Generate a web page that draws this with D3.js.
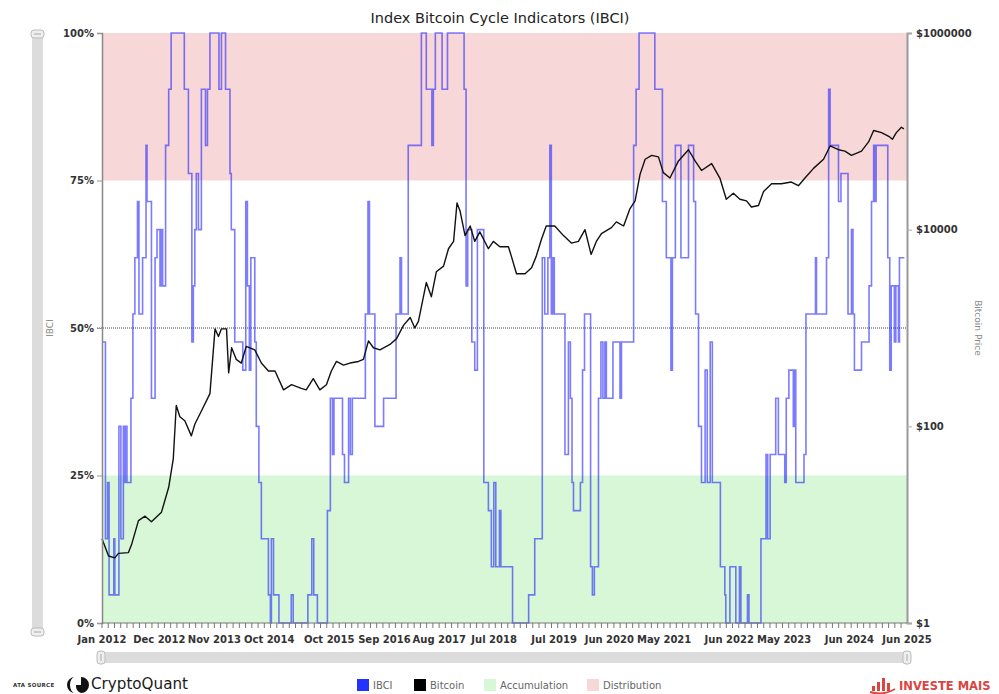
<!DOCTYPE html>
<html>
<head>
<meta charset="utf-8">
<script src="https://cdn.jsdelivr.net/npm/d3@7"></script>
<style>
  body { margin: 0; background: #fff; }
  svg { display: block; }
  text { font-family: "DejaVu Sans", Verdana, sans-serif; }
</style>
</head>
<body>
<svg width="999" height="694"></svg>
<script>
var ibciDates = [
  "2012-01-01","2012-01-22","2012-02-04","2012-02-13","2012-03-13","2012-03-19","2012-04-13","2012-04-25","2012-05-10","2012-05-16","2012-05-22","2012-06-01","2012-06-25","2012-07-07","2012-07-19","2012-08-04","2012-08-13","2012-09-04","2012-09-25","2012-10-01","2012-10-28","2012-11-19","2012-12-01","2012-12-19","2012-12-25",
  "2013-01-04","2013-01-22","2013-02-10","2013-02-25","2013-05-16","2013-06-10","2013-07-01","2013-07-10","2013-07-19","2013-07-28","2013-08-10","2013-08-28","2013-09-22","2013-10-04","2013-10-19","2013-12-13","2013-12-28",
  "2014-01-22","2014-02-18","2014-02-26","2014-03-19","2014-05-07","2014-05-25","2014-06-04","2014-06-16","2014-06-25","2014-07-19","2014-07-28","2014-08-13","2014-08-28","2014-10-10","2014-10-22","2014-10-28","2014-11-10","2014-12-13",
  "2015-02-26","2015-03-10","2015-06-07","2015-07-01","2015-07-13","2015-08-04","2015-10-04","2015-10-22","2015-11-04","2015-11-13",
  "2016-01-04","2016-01-16","2016-02-10","2016-02-21","2016-03-04","2016-05-22","2016-06-07","2016-06-16","2016-07-19","2016-09-10","2016-11-25","2016-12-19","2016-12-28",
  "2017-02-07","2017-04-28","2017-05-28","2017-07-01","2017-07-10","2017-07-22","2017-09-01","2017-10-04",
  "2018-01-13","2018-01-25","2018-02-04","2018-03-01","2018-03-19","2018-04-04","2018-05-13","2018-06-10","2018-06-28","2018-07-13","2018-07-25","2018-08-16","2018-08-25","2018-11-04",
  "2019-02-10","2019-03-19","2019-05-04","2019-05-19","2019-06-07","2019-06-19","2019-06-28","2019-07-07","2019-07-16","2019-09-19","2019-10-10","2019-10-22","2019-11-01","2019-11-10","2019-12-22",
  "2020-01-04","2020-01-16","2020-02-22","2020-03-04","2020-03-16","2020-04-10","2020-04-25","2020-05-07","2020-05-19","2020-05-28","2020-07-07","2020-08-19","2020-08-28","2020-11-10","2020-11-25","2020-12-13",
  "2021-03-19","2021-05-04","2021-05-28","2021-06-25","2021-07-04","2021-07-22","2021-08-25","2021-10-10","2021-11-10","2021-11-22","2021-12-10","2021-12-28",
  "2022-01-19","2022-02-01","2022-02-19","2022-03-04","2022-04-22","2022-05-19","2022-05-25","2022-06-19","2022-07-25","2022-08-16","2022-08-25","2022-10-04","2022-10-13","2022-12-25",
  "2023-01-25","2023-02-04","2023-02-19","2023-03-25","2023-04-10","2023-05-19","2023-05-28","2023-06-13","2023-07-10","2023-07-16","2023-07-25","2023-09-13","2023-09-25","2023-11-22","2023-11-28",
  "2024-01-28","2024-02-10","2024-02-19","2024-04-10","2024-04-25","2024-06-07","2024-06-28","2024-07-07","2024-07-16","2024-08-28","2024-10-13","2024-10-28","2024-11-10","2024-11-19","2024-11-25",
  "2025-02-04","2025-02-16","2025-02-25","2025-03-16","2025-03-25","2025-04-10","2025-04-16","2025-05-16"
];
var ibciCounts = [
  10,3,5,1,3,1,7,3,7,5,7,5,8,11,13,15,11,13,17,15,8,13,14,12,14,
  12,17,19,21,19,16,10,12,14,16,14,19,17,19,21,19,21,
  19,16,14,10,9,15,12,9,13,10,7,5,3,1,0,3,1,0,
  1,0,1,3,1,0,4,8,6,8,
  6,5,8,6,8,11,15,11,7,8,11,13,11,
  17,21,19,17,19,21,19,21,
  19,12,14,10,9,14,5,4,2,5,2,4,2,0,
  1,3,13,11,13,17,11,13,11,6,10,8,5,4,5,
  9,11,2,1,2,8,10,8,10,8,10,8,10,17,19,21,
  19,15,13,9,13,17,13,17,15,11,7,5,
  9,5,10,5,2,1,0,2,0,2,0,1,0,3,
  6,3,6,8,6,5,8,9,7,9,5,6,11,13,11,
  13,19,17,15,16,11,14,11,9,10,12,15,17,15,17,
  13,9,12,10,12,10,13,13
];
var ibciTotal = 21;

// Bitcoin price (USD)
var btcDates = [
  "2012-01-01","2012-02-10","2012-03-19","2012-04-10","2012-06-10","2012-06-28","2012-08-10","2012-09-19","2012-10-28","2012-12-28",
  "2013-02-10","2013-03-10","2013-03-28","2013-04-19","2013-05-19","2013-06-28","2013-07-19","2013-08-28","2013-10-19","2013-11-19","2013-12-10","2013-12-28",
  "2014-01-28","2014-02-10","2014-02-28","2014-03-28","2014-04-28","2014-05-28","2014-07-19","2014-08-28","2014-10-10","2014-11-19",
  "2015-01-10","2015-02-28","2015-04-28","2015-05-28","2015-07-10","2015-08-19","2015-09-28","2015-10-28","2015-11-28",
  "2016-01-10","2016-02-19","2016-04-10","2016-05-10","2016-06-10","2016-07-10","2016-08-19","2016-10-19","2016-11-28",
  "2017-01-10","2017-02-19","2017-03-19","2017-04-10","2017-05-28","2017-06-28","2017-07-28","2017-09-10","2017-10-10","2017-11-10","2017-12-01","2017-12-19",
  "2018-01-19","2018-02-19","2018-03-19","2018-04-19","2018-06-10","2018-07-10","2018-08-19","2018-10-10","2018-10-28","2018-11-28",
  "2019-01-19","2019-02-28","2019-03-28","2019-04-28","2019-05-28","2019-07-19","2019-09-10","2019-10-28","2019-12-10",
  "2020-01-19","2020-02-25","2020-03-28","2020-04-28","2020-06-28","2020-07-28","2020-09-10","2020-10-19","2020-11-19","2020-12-19",
  "2021-01-19","2021-02-28","2021-04-10","2021-05-10","2021-06-19","2021-08-10","2021-10-10","2021-11-19","2021-12-28",
  "2022-02-28","2022-04-19","2022-05-28","2022-07-10","2022-08-19","2022-09-28","2022-10-28","2022-12-10",
  "2023-01-10","2023-02-28","2023-04-28","2023-06-28","2023-08-10","2023-09-19","2023-11-10",
  "2024-01-10","2024-02-19","2024-04-10","2024-05-19","2024-06-28","2024-08-28","2024-10-10","2024-11-10","2024-12-28",
  "2025-02-10","2025-03-04","2025-03-28","2025-04-28","2025-05-13"
];
var btcPrices = [
  7.2,4.8,4.6,5.1,5.2,6.2,11,12.2,10.7,13.4,
  24,47,163,125,114,80,105,143,215,980,820,980,
  980,350,630,480,440,650,600,440,365,365,
  235,265,243,235,305,235,265,365,457,
  420,440,457,480,740,630,600,680,780,
  1070,1280,1000,1170,2900,2080,3730,4260,6400,7600,18700,15600,
  8700,10900,7600,9500,6400,7600,6700,6700,5350,3560,
  3560,4100,5350,7900,10900,10900,8700,7300,7600,
  10000,5600,7600,9100,10500,12000,10900,16400,19600,36500,
  52000,57000,55000,38000,33500,50000,65000,50000,40000,
  47000,33500,20400,23500,20400,19600,17000,17600,
  24500,29300,29300,30500,28000,33500,42000,
  52000,71000,65000,63000,57000,63000,78000,102000,97000,
  89000,83000,97000,110000,106000
];

var pctTicks = [0, 25, 50, 75, 100];
var priceTicks = [1, 100, 10000, 1000000];
var xTickDates = ["2012-01-01","2012-12-15","2013-11-15","2014-10-15","2015-10-15","2016-09-15","2017-08-15",
                  "2018-07-15","2019-07-15","2020-06-15","2021-05-15","2022-06-15","2023-05-15","2024-06-15","2025-06-01"];
var zones = [
  {name: "Accumulation", from: 0, to: 25, color: "#d7f7d7"},
  {name: "Distribution", from: 75, to: 100, color: "#f7d7d7"}
];

var parse = d3.timeParse("%Y-%m-%d");
var ibci = ibciDates.map(function(d, i) { return {date: parse(d), v: ibciCounts[i]}; });
var btc = btcDates.map(function(d, i) { return {date: parse(d), v: btcPrices[i]}; });

var plotL = 102, plotR = 907, plotT = 33, plotB = 623;
var svg = d3.select("svg");

var x = d3.scaleTime().domain([parse("2012-01-01"), parse("2025-06-01")]).range([plotL, plotR]);
var yPct = d3.scaleLinear().domain([0, 100]).range([plotB, plotT]);
var yCount = d3.scaleLinear().domain([0, ibciTotal]).range([plotB, plotT]);
var yPrice = d3.scaleLog().domain([1, 1000000]).range([plotB, plotT]);

// title
svg.append("text")
  .attr("x", 500).attr("y", 23)
  .attr("text-anchor", "middle")
  .attr("font-size", "14.5px")
  .attr("fill", "#222")
  .text("Index Bitcoin Cycle Indicators (IBCI)");

// zone bands
svg.append("g").selectAll("rect")
  .data(zones)
  .enter().append("rect")
  .attr("x", plotL)
  .attr("width", plotR - plotL)
  .attr("y", function(d) { return yPct(d.to); })
  .attr("height", function(d) { return yPct(d.from) - yPct(d.to); })
  .attr("fill", function(d) { return d.color; });

// 50% line
svg.append("line")
  .attr("x1", plotL - 5).attr("x2", plotR)
  .attr("y1", yPct(50)).attr("y2", yPct(50))
  .attr("stroke", "#444").attr("stroke-width", 1)
  .attr("stroke-dasharray", "1,1");

// series
var ibciLine = d3.line()
  .curve(d3.curveStepAfter)
  .x(function(d) { return x(d.date); })
  .y(function(d) { return yCount(d.v); });

var btcLine = d3.line()
  .x(function(d) { return x(d.date); })
  .y(function(d) { return yPrice(d.v); });

svg.append("path")
  .datum(ibci)
  .attr("d", ibciLine)
  .attr("fill", "none")
  .attr("stroke", "#2a2aff")
  .attr("stroke-opacity", 0.62)
  .attr("stroke-width", 1.6);

svg.append("path")
  .datum(btc)
  .attr("d", btcLine)
  .attr("fill", "none")
  .attr("stroke", "#111")
  .attr("stroke-width", 1.4)
  .attr("stroke-linejoin", "round");

// left axis
var leftAxis = svg.append("g").attr("transform", "translate(" + plotL + ",0)")
  .call(d3.axisLeft(yPct).tickValues(pctTicks).tickSize(5).tickPadding(3)
    .tickFormat(function(d) { return d + "%"; }));
leftAxis.select(".domain").attr("stroke", "#888").attr("stroke-width", 1.5);
leftAxis.selectAll(".tick line").attr("stroke", "#999");
leftAxis.selectAll("text").attr("font-size", "10px").attr("font-weight", "bold").attr("fill", "#333")
  .attr("font-family", "DejaVu Sans");

// right axis
var rightAxis = svg.append("g").attr("transform", "translate(" + plotR + ",0)")
  .call(d3.axisRight(yPrice).tickValues(priceTicks).tickSize(5).tickPadding(4)
    .tickFormat(function(d) { return "$" + d; }));
rightAxis.select(".domain").attr("stroke", "#999").attr("stroke-width", 2);
rightAxis.selectAll(".tick line").attr("stroke", "#aaa");
rightAxis.selectAll("text").attr("font-size", "10px").attr("font-weight", "bold").attr("fill", "#333")
  .attr("font-family", "DejaVu Sans");

// bottom axis: baseline with small ticks, labels at the given dates
svg.append("line")
  .attr("x1", plotL).attr("x2", plotR)
  .attr("y1", plotB).attr("y2", plotB)
  .attr("stroke", "#777").attr("stroke-width", 1);

var minorTicks = d3.timeDay.range(x.domain()[0], x.domain()[1], 38);
svg.append("g").selectAll("line")
  .data(minorTicks)
  .enter().append("line")
  .attr("x1", function(d) { return x(d); })
  .attr("x2", function(d) { return x(d); })
  .attr("y1", plotB).attr("y2", plotB + 5)
  .attr("stroke", "#777");

var fmt = d3.timeFormat("%b %Y");
svg.append("g").selectAll("text")
  .data(xTickDates.map(parse))
  .enter().append("text")
  .attr("x", function(d) { return x(d); })
  .attr("y", 643)
  .attr("text-anchor", "middle")
  .attr("font-size", "10px")
  .attr("font-weight", "bold")
  .attr("fill", "#333")
  .text(function(d) { return fmt(d); });

// axis titles
svg.append("text")
  .attr("transform", "translate(53," + yPct(50) + ") rotate(-90)")
  .attr("text-anchor", "middle")
  .attr("font-size", "9px")
  .attr("fill", "#888")
  .text("IBCI");

svg.append("text")
  .attr("transform", "translate(975," + yPct(50) + ") rotate(90)")
  .attr("text-anchor", "middle")
  .attr("font-size", "9px")
  .attr("fill", "#888")
  .text("Bitcoin Price");

// scrollbars
svg.append("rect").attr("x", 32).attr("y", 31).attr("width", 11).attr("height", 604).attr("fill", "#dcdcdc");
[34, 632].forEach(function(cy) {
  svg.append("rect").attr("x", 31).attr("y", cy - 4).attr("width", 13).attr("height", 8).attr("rx", 3)
    .attr("fill", "#eee").attr("stroke", "#bbb");
  svg.append("line").attr("x1", 34).attr("x2", 41).attr("y1", cy).attr("y2", cy).attr("stroke", "#aaa");
});
svg.append("rect").attr("x", 100).attr("y", 652).attr("width", 808).attr("height", 11).attr("fill", "#dcdcdc");
[101, 907].forEach(function(cx) {
  svg.append("rect").attr("x", cx - 4).attr("y", 651).attr("width", 8).attr("height", 13).attr("rx", 3)
    .attr("fill", "#eee").attr("stroke", "#bbb");
  svg.append("line").attr("x1", cx).attr("x2", cx).attr("y1", 654).attr("y2", 661).attr("stroke", "#aaa");
});

// legend
var legendItems = [
  {name: "IBCI", color: "#2233ff", x: 357},
  {name: "Bitcoin", color: "#000", x: 414},
  {name: "Accumulation", color: "#d7f7d7", x: 484},
  {name: "Distribution", color: "#f7d7d7", x: 587}
];
var legend = svg.append("g").selectAll("g")
  .data(legendItems)
  .enter().append("g")
  .attr("transform", function(d) { return "translate(" + d.x + ",679)"; });
legend.append("rect").attr("width", 12).attr("height", 12).attr("fill", function(d) { return d.color; });
legend.append("text")
  .attr("x", 16).attr("y", 10)
  .attr("font-size", "10px")
  .attr("fill", "#666")
  .text(function(d) { return d.name; });

// CryptoQuant mark
svg.append("text")
  .attr("x", 13).attr("y", 687)
  .attr("font-size", "5.5px").attr("font-weight", "bold").attr("fill", "#333")
  .attr("letter-spacing", "0.3px")
  .text("ATA SOURCE");
svg.append("path")
  .attr("d", "M75,677 A8,8 0 0,0 75,693 A5,8 0 0,1 75,677 Z")
  .attr("fill", "#111");
svg.append("path")
  .attr("d", "M81,677 A8,8 0 1,1 81,693 A8,8 0 0,1 76,685 L81,685 Z")
  .attr("fill", "#111");
svg.append("text")
  .attr("x", 91).attr("y", 689)
  .attr("font-size", "16px")
  .attr("fill", "#1a1a1a")
  .attr("textLength", 97)
  .attr("lengthAdjust", "spacingAndGlyphs")
  .text("CryptoQuant");

// INVESTE MAIS mark
var red = "#d9453f";
[[872, 686, 3, 5], [877, 682, 3, 9], [882, 678, 3, 13], [887, 683, 3, 8]].forEach(function(b) {
  svg.append("rect").attr("x", b[0]).attr("y", b[1]).attr("width", b[2]).attr("height", b[3]).attr("fill", red);
});
svg.append("path")
  .attr("d", "M870,692 Q883,696 895,689")
  .attr("fill", "none").attr("stroke", red).attr("stroke-width", 2);
svg.append("text")
  .attr("x", 899).attr("y", 690)
  .attr("font-weight", "bold")
  .attr("font-size", "11.5px")
  .attr("fill", red)
  .text("INVESTE MAIS");
</script>
</body>
</html>
